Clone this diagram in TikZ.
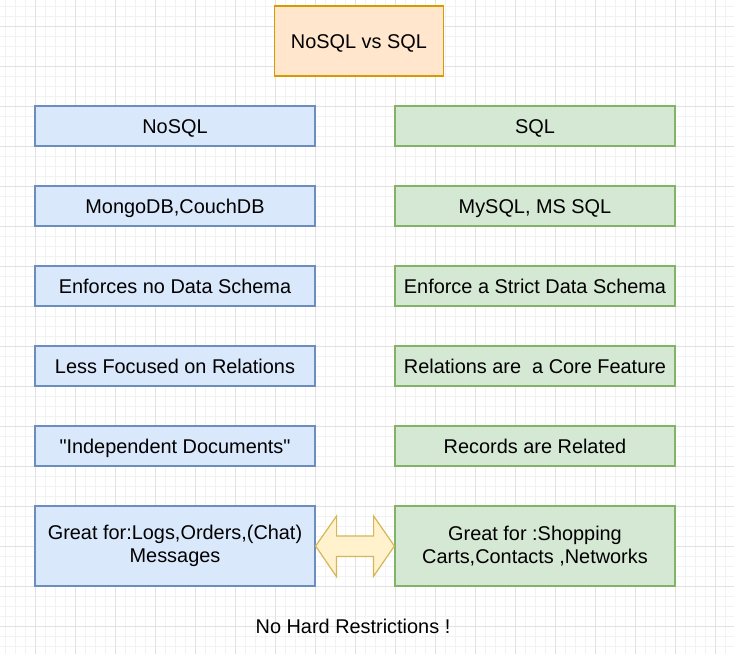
\documentclass[tikz,border=0pt]{standalone}
\usepackage{fontspec}
\setmainfont{Liberation Sans}[Ligatures=TeXOff]
\definecolor{bluefill}{HTML}{DAE8FC}
\definecolor{bluedraw}{HTML}{6C8EBF}
\definecolor{greenfill}{HTML}{D5E8D4}
\definecolor{greendraw}{HTML}{82B366}
\definecolor{orangefill}{HTML}{FFE6CC}
\definecolor{orangedraw}{HTML}{D79B00}
\definecolor{yellowfill}{HTML}{FFF2CC}
\definecolor{yellowdraw}{HTML}{D6B656}
\definecolor{gridminor}{HTML}{F2F2F2}
\definecolor{gridmajor}{HTML}{E2E2E2}
\begin{document}
\begin{tikzpicture}[x=1pt,y=-1pt,
  txt/.style={font=\fontsize{19.9}{23.4}\selectfont, text=black},
  box/.style={txt, draw, line width=1.2pt, minimum width=280pt, minimum height=40pt,
    inner sep=0pt, text height=14.2pt, text depth=0pt, align=center},
  tallbox/.style={txt, draw, line width=1.2pt, minimum width=280pt, minimum height=80pt,
    inner sep=0pt, align=center},
  nosqlbox/.style={fill=bluefill, draw=bluedraw},
  sqlbox/.style={fill=greenfill, draw=greendraw},
  dblarrow/.style={fill=yellowfill, draw=yellowdraw, line width=1.2pt, line join=miter}
]
\useasboundingbox (0,0) rectangle (734,654);
\fill[white] (0,0) rectangle (734,654);
% grid
\foreach \x in {5,15,...,734} \draw[gridminor, line width=0.8pt] (\x,0) -- (\x,654);
\foreach \y in {6,16,...,654} \draw[gridminor, line width=0.8pt] (0,\y) -- (734,\y);
\foreach \x in {35,75,...,734} \draw[gridmajor, line width=0.8pt] (\x,0) -- (\x,654);
\foreach \y in {26,66,...,654} \draw[gridmajor, line width=0.8pt] (0,\y) -- (734,\y);

% title
\node[box, minimum width=169pt, minimum height=70pt, fill=orangefill, draw=orangedraw]
  (title) at (359,41) {NoSQL vs SQL};

% left column
\node[box, nosqlbox] (n1) at (175,126) {NoSQL};
\node[box, nosqlbox] (n2) at (175,206) {MongoDB,CouchDB};
\node[box, nosqlbox] (n3) at (175,286) {Enforces no Data Schema};
\node[box, nosqlbox] (n4) at (175,366) {Less Focused on Relations};
\node[box, nosqlbox] (n5) at (175,446) {"Independent Documents"};
\node[tallbox, nosqlbox] (n6) at (175,546) {Great for:Logs,Orders,(Chat)\\Messages};

% right column
\node[box, sqlbox] (s1) at (535,126) {SQL};
\node[box, sqlbox] (s2) at (535,206) {MySQL, MS SQL};
\node[box, sqlbox] (s3) at (535,286) {Enforce a Strict Data Schema};
\node[box, sqlbox] (s4) at (535,366) {Relations are \ a Core Feature};
\node[box, sqlbox] (s5) at (535,446) {Records are Related};
\node[tallbox, sqlbox] (s6) at (535,546) {Great for :Shopping\\Carts,Contacts ,Networks};

% double arrow between the last boxes
\draw[dblarrow] (n6.east) -- ++(21,-30) -- ++(0,20) -- ++(37,0) -- ++(0,-20)
  -- (s6.west) -- ++(-21,30.5) -- ++(0,-20) -- ++(-37,0) -- ++(0,20) -- cycle;

% footer text
\node[txt, inner sep=0pt, text height=14.2pt, text depth=0pt] (note) at (353,626) {No Hard Restrictions !};
\end{tikzpicture}
\end{document}
